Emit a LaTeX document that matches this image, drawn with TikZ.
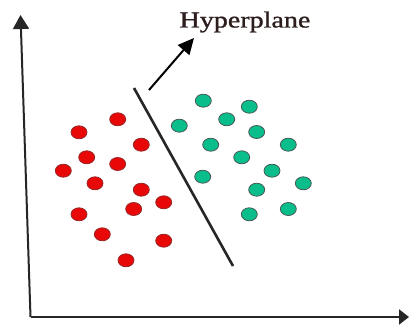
\documentclass[tikz,border=0pt]{standalone}
\usepackage{fontspec}
\setmainfont{Liberation Serif}
\newfontfamily\labfont[FakeBold=1.0]{Liberation Serif}
\usetikzlibrary{arrows.meta,shapes.geometric}
\definecolor{dotred}{RGB}{232,8,8}
\definecolor{dotredline}{RGB}{150,40,40}
\definecolor{dotgreen}{RGB}{10,190,140}
\definecolor{dotgreenline}{RGB}{70,90,85}
\definecolor{labelcol}{RGB}{45,30,30}
\tikzset{
  reddot/.style={ellipse,draw=dotredline,fill=dotred,line width=0.8pt,minimum width=16pt,minimum height=13pt,inner sep=0pt},
  greendot/.style={ellipse,draw=dotgreenline,fill=dotgreen,line width=0.8pt,minimum width=16pt,minimum height=13pt,inner sep=0pt},
  axisline/.style={draw=black!85,line width=2pt},
}
\begin{document}
\begin{tikzpicture}[x=1pt,y=-1pt]
\useasboundingbox (0,0) rectangle (409,324);
% axes
\coordinate (o) at (31,317);
\coordinate (ytop) at (20.5,15);
\coordinate (xend) at (409,317);
\draw[axisline,-{Triangle[length=14pt,width=16pt]}] (30.5,317) -- (ytop);
\draw[axisline,-{Triangle[length=10pt,width=15pt]}] (o) -- (xend);
% hyperplane
\coordinate (h1) at (134,88);
\coordinate (h2) at (233,266);
\draw[black!85,line width=2.6pt] (h1) -- (h2);
% label
\node[font=\labfont\fontsize{23}{25}\selectfont,text=labelcol,xscale=1.22,inner sep=0pt] (lab) at (245,22) {Hyperplane};
\coordinate (a1) at (149,90);
\coordinate (a2) at (194,38);
\draw[black,line width=2pt,-{Triangle[length=16pt,width=15pt]}] (a1) -- (a2);
% red dots
\foreach \x/\y [count=\i] in {117.7/119.3, 79/132.3, 141.3/144.7, 86.7/157.3, 117.7/164, 63.3/170.7, 95/183.3, 141.3/189.7, 163.7/202.3, 133.7/209, 79/214.3, 102.3/234.3, 163.7/240.7, 126/260.3}
  \node[reddot] (r\i) at (\x,\y) {};
% green dots
\foreach \x/\y [count=\i] in {203.3/100.7, 249.3/106.7, 179.3/125.7, 226.7/119.3, 256.7/132, 210.7/144.7, 288.3/144.7, 241.7/157.3, 272/170.7, 202.7/176.7, 303.3/183.3, 256.7/189.7, 249.3/214.3, 288.3/209}
  \node[greendot] (g\i) at (\x,\y) {};
\end{tikzpicture}
\end{document}
